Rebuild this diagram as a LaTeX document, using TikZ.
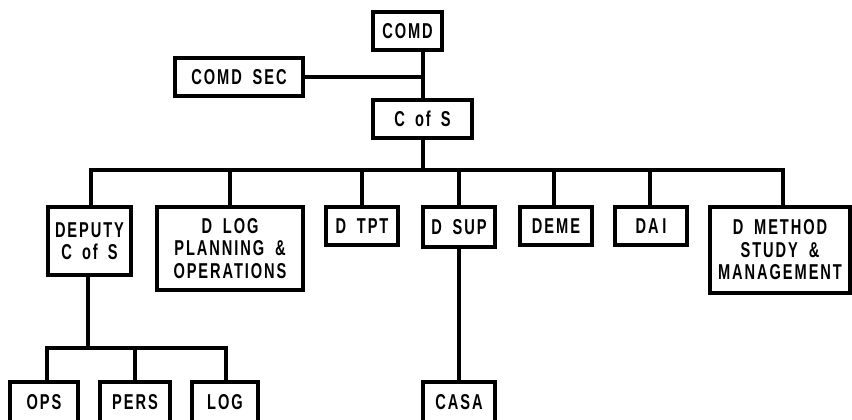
\documentclass[tikz,border=0pt]{standalone}
\usepackage{fontspec}
\setmainfont{Liberation Sans}[FakeStretch=0.68,LetterSpace=9,WordSpace=1.8,BoldFont={* Bold}]
\newcommand{\gp}{\hspace{10pt}}
\begin{document}
\begin{tikzpicture}[x=1pt,y=-1pt,
  box/.style={draw, line width=3.2pt, rectangle, inner sep=0pt, align=center,
    font=\fontsize{21.5}{22.5}\selectfont\bfseries},
  conn/.style={line width=3.2pt}]
\useasboundingbox (0,0) rectangle (852,420);
% top level
\node[box, minimum width=69, minimum height=38] (comd) at (407.5,31) {COMD};
\node[box, minimum width=128, minimum height=38] (comdsec) at (239,77) {COMD SEC};
\node[box, minimum width=99, minimum height=38] (cofs) at (422.5,119) {C\gp of\gp S};
\coordinate (tr) at (423,0);
\coordinate (bus) at (0,170);
\coordinate (subbus) at (0,348);
% second level
\node[box, minimum width=83, minimum height=68] (dep) at (89.5,241) {DEPUTY\\C\gp of\gp S};
\node[box, minimum width=146, minimum height=83] (dlog) at (230,248.5) {D LOG\\PLANNING \&\\OPERATIONS};
\node[box, minimum width=72, minimum height=38] (dtpt) at (362,226) {D TPT};
\node[box, minimum width=72, minimum height=40] (dsup) at (459,227) {D SUP};
\node[box, minimum width=72, minimum height=38] (deme) at (556,226) {DEME};
\node[box, minimum width=72, minimum height=38] (dai) at (651,226) {DA\,I};
\node[box, minimum width=140, minimum height=86] (dmeth) at (780,250) {D METHOD\\STUDY \&\\MANAGEMENT};
% third level
\node[box, minimum width=68, minimum height=40] (ops) at (44,402) {OPS};
\node[box, minimum width=70, minimum height=40] (pers) at (135,402) {PERS};
\node[box, minimum width=66, minimum height=40] (log) at (225,402) {LOG};
\node[box, minimum width=72, minimum height=40] (casa) at (459,402) {CASA};
% connectors
\draw[conn] (comd.south -| tr) -- (cofs.north -| tr);
\draw[conn] (comdsec.east) -- (comdsec.east -| tr);
\draw[conn] (cofs.south -| tr) -- (bus -| tr);
\draw[conn] (dep.north -| 91,0) |- (bus -| 783,0) -- (dmeth.north -| 783,0);
\draw[conn] (dlog.north) -- (bus -| dlog.north);
\draw[conn] (dtpt.north) -- (bus -| dtpt.north);
\draw[conn] (dsup.north) -- (bus -| dsup.north);
\draw[conn] (deme.north -| 554,0) -- (bus -| 554,0);
\draw[conn] (dai.north -| 650,0) -- (bus -| 650,0);
\draw[conn] (dep.south -| 88,0) -- (subbus -| 88,0);
\draw[conn] (ops.north -| 47,0) |- (subbus -| 226,0) -- (log.north -| 226,0);
\draw[conn] (pers.north) -- (subbus -| pers.north);
\draw[conn] (dsup.south) -- (casa.north);
\end{tikzpicture}
\end{document}
